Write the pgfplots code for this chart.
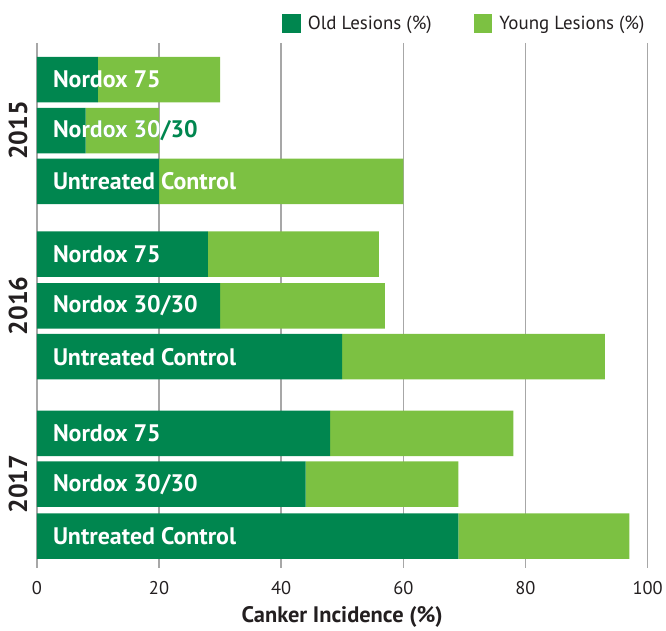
\documentclass[border=0pt]{standalone}
\usepackage{pgfplots}
\pgfplotsset{compat=1.18}
\usepackage{pgfplotstable}
\usepackage{fontspec}
\setmainfont{PT Sans}
\usetikzlibrary{calc}
\definecolor{dkgreen}{HTML}{00864F}
\definecolor{ltgreen}{HTML}{7CC142}
\definecolor{txt}{HTML}{231F20}
\definecolor{grd}{HTML}{A7A7A7}
\pgfplotstableread{
y old young
80 10 20
131 8 12
182 20 40
255 28 28
307 30 27
358 50 43
435 48 30
486 44 25
538 69 28
}\data
\begin{document}
\begin{tikzpicture}
\begin{axis}[
  name=ax,
  scale only axis,
  width=613pt, height=518pt,
  xmin=0, xmax=100, ymin=43, ymax=561,
  y dir=reverse,
  xbar stacked,
  bar width=45.7,
  axis line style={draw=none},
  xtick={0,20,40,60,80,100},
  ytick=\empty,
  xmajorgrids,
  grid style={grd, line width=1.4pt},
  xtick align=outside,
  xtick pos=bottom,
  major tick length=9pt,
  tick style={grd, line width=1.4pt},
  ticklabel style={font=\fontsize{18.5}{20}\selectfont, text=txt},
  xticklabel style={yshift=-10pt},
  /pgf/number format/assume math mode=true,
  xlabel={Canker Incidence (\%)},
  xlabel style={font=\fontsize{22.5}{24}\selectfont\bfseries, text=txt, yshift=-5pt},
  legend columns=2,
  legend style={draw=none, fill=none, at={(1,1)}, anchor=south east, yshift=8pt, xshift=2pt,
    font=\fontsize{19}{21}\selectfont, text=txt,
    /tikz/every even column/.append style={column sep=40pt}},
  legend image code/.code={\fill[#1, draw=none] (0pt,-9.5pt) rectangle (19pt,9.5pt); \path (24pt,0pt);},
]
\addplot[fill=dkgreen, draw=none] table[x=old, y=y] {\data};
\addlegendentry{Old Lesions (\%)}
\addplot[fill=ltgreen, draw=none] table[x=young, y=y] {\data};
\addlegendentry{Young Lesions (\%)}
\coordinate (c1a) at (axis cs:0,108.15);
\coordinate (c1b) at (axis cs:20,153.85);
\coordinate (l2015) at (axis cs:0,131);
\coordinate (l2016) at (axis cs:0,307);
\coordinate (l2017) at (axis cs:0,486);
\coordinate (b1) at (axis cs:0,80);
\coordinate (b3) at (axis cs:0,182);
\coordinate (b4) at (axis cs:0,255);
\coordinate (b5) at (axis cs:0,307);
\coordinate (b6) at (axis cs:0,358);
\coordinate (b7) at (axis cs:0,435);
\coordinate (b8) at (axis cs:0,486);
\coordinate (b9) at (axis cs:0,538);
\end{axis}
\path ($(ax.south west)+(-37pt,-63pt)$) rectangle ($(ax.north east)+(16pt,43pt)$);
\tikzset{bl/.style={anchor=west, inner sep=0pt, xshift=16pt, font=\fontsize{24}{26}\selectfont\bfseries}}
\node[bl, text=white] at (b1) {Nordox 75};
\node[bl, text=dkgreen] at (l2015) {Nordox 30/30};
\begin{scope}
\clip (c1a) rectangle (c1b);
\node[bl, text=white] at (l2015) {Nordox 30/30};
\end{scope}
\node[bl, text=white] at (b3) {Untreated Control};
\node[bl, text=white] at (b4) {Nordox 75};
\node[bl, text=white] at (b5) {Nordox 30/30};
\node[bl, text=white] at (b6) {Untreated Control};
\node[bl, text=white] at (b7) {Nordox 75};
\node[bl, text=white] at (b8) {Nordox 30/30};
\node[bl, text=white] at (b9) {Untreated Control};
\foreach \c/\t in {l2015/2015, l2016/2016, l2017/2017}
  \node[rotate=90, inner sep=0pt, font=\fontsize{26}{28}\selectfont\bfseries, text=txt] at ($(\c)+(-19pt,0)$) {\t};
\end{tikzpicture}
\end{document}
